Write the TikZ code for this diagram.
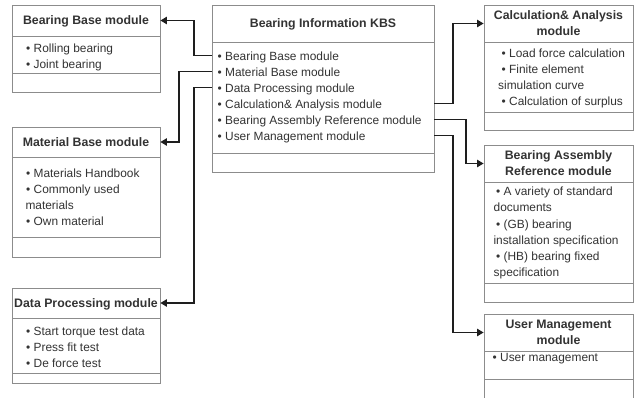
\documentclass[tikz,border=0pt]{standalone}
\usepackage{fontspec}
\setmainfont{Liberation Sans}
\usetikzlibrary{arrows.meta}

\definecolor{framegray}{HTML}{8C8C8C}
\definecolor{inkgray}{HTML}{333333}
\definecolor{wirecol}{HTML}{1E1E1E}

\tikzset{
  modframe/.style={draw=framegray, line width=0.9pt},
  modtitle/.style={font=\fontsize{12.3}{16}\selectfont\bfseries, text=inkgray, align=center,
    inner sep=0pt, text depth=0pt},
  moditem/.style={font=\fontsize{11.9}{14}\selectfont, text=inkgray, anchor=base west, inner sep=0pt},
  wire/.style={draw=wirecol, line width=1.1pt, -{Triangle[length=6.5pt,width=7.5pt]}},
}

% module box: name, x1, y1, x2, y2, title rule, body rule, title
\newcommand\modbox[8]{%
  \node[modframe, inner sep=0pt, minimum width={(#4-#2)*1pt}, minimum height={(#5-#3)*1pt}]
    (#1) at ({(#2+#4)/2},{(#3+#5)/2}) {};
  \draw[modframe] (#2,#6) -- (#4,#6);
  \draw[modframe] (#2,#7) -- (#4,#7);
  \node[modtitle] (#1-t) at ({(#2+#4)/2},{(#3+#6)/2}) {#8};
}
% one text line of a module body: name, x, baseline, text
\newcommand\itemline[4]{\node[moditem] (#1) at (#2,#3) {#4};}

\begin{document}
\begin{tikzpicture}[x=1pt, y=-1pt]
  \useasboundingbox (0,0) rectangle (638,397);
  \clip (0,0) rectangle (638,397);
  \fill[white] (0,0) rectangle (638,397);

  % left column
  \modbox{bb}{12}{5}{160}{92}{36}{73}{Bearing Base module}
  \itemline{bb1}{26}{52.3}{• Rolling bearing}
  \itemline{bb2}{26}{68.5}{• Joint bearing}

  \modbox{mat}{12}{127}{160}{257}{157}{237}{Material Base module}
  \itemline{mat1}{26}{177.3}{• Materials Handbook}
  \itemline{mat2}{26}{193.5}{• Commonly used}
  \itemline{mat3}{25.3}{209.7}{materials}
  \itemline{mat4}{26}{225.9}{• Own material}

  \modbox{dat}{12}{288}{160}{383}{318}{373}{Data Processing module}
  \itemline{dat1}{26}{335}{• Start torque test data}
  \itemline{dat2}{26}{351.2}{• Press fit test}
  \itemline{dat3}{26}{367.4}{• De force test}

  % central box
  \modbox{cen}{212}{5}{434}{172}{42}{153}{Bearing Information KBS}
  \itemline{ci1}{217.5}{60}{• Bearing Base module}
  \itemline{ci2}{217.5}{76}{• Material Base module}
  \itemline{ci3}{217.5}{92}{• Data Processing module}
  \itemline{ci4}{217.5}{108}{• Calculation\& Analysis module}
  \itemline{ci5}{217.5}{124}{• Bearing Assembly Reference module}
  \itemline{ci6}{217.5}{140}{• User Management module}
  \foreach \i in {1,...,6} {\path (ci\i.base west) ++(0,-4.5) coordinate (ck\i);}

  % right column
  \modbox{calc}{484}{5}{633}{130}{42}{112}{Calculation\& Analysis\\module}
  \itemline{calc1}{501.5}{57.3}{• Load force calculation}
  \itemline{calc2}{501.5}{73.5}{• Finite element}
  \itemline{calc3}{498}{89.7}{simulation curve}
  \itemline{calc4}{501.5}{105.9}{• Calculation of surplus}

  \modbox{asm}{484}{145}{633}{302}{182}{283}{Bearing Assembly\\Reference module}
  \itemline{asm1}{496}{195.7}{• A variety of standard}
  \itemline{asm2}{493.5}{211.9}{documents}
  \itemline{asm3}{496}{228.1}{• (GB) bearing}
  \itemline{asm4}{493.3}{244.3}{installation specification}
  \itemline{asm5}{496}{260.5}{• (HB) bearing fixed}
  \itemline{asm6}{493.5}{276.7}{specification}

  \modbox{usr}{484}{314}{633}{404}{351}{379}{User Management\\module}
  \itemline{usr1}{492.5}{361.7}{• User management}

  % bend lines of the connectors
  \coordinate (lbend) at (194,0);
  \coordinate (lbend2) at (179,0);
  \coordinate (rbend) at (453,0);
  \coordinate (rbend2) at (466,0);

  \draw[wire] (cen.west |- ck1) -- (lbend |- ck1) |- (bb.east |- bb-t);
  \draw[wire] (cen.west |- ck2) -- (lbend2 |- ck2) |- (mat.east |- mat-t);
  \draw[wire] (cen.west |- ck3) -- (lbend |- ck3) |- (dat.east |- dat-t);
  \draw[wire] (cen.east |- ck4) -- (rbend |- ck4) |- (calc.west |- calc-t);
  \draw[wire] (cen.east |- ck5) -- (rbend2 |- ck5) |- (asm.west |- asm-t);
  \draw[wire] (cen.east |- ck6) -- (rbend |- ck6) |- (usr.west |- usr-t);
\end{tikzpicture}
\end{document}
